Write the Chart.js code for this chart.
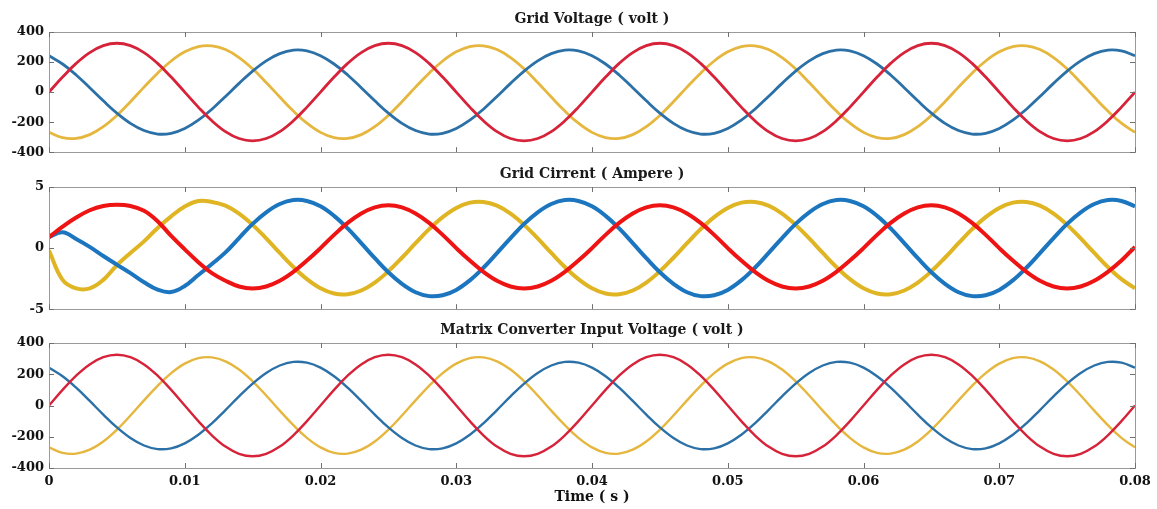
<!DOCTYPE html>
<html>
<head>
<meta charset="utf-8">
<script src="https://cdn.jsdelivr.net/npm/chart.js@4.4.1/dist/chart.umd.min.js"></script>
<style>
  html, body { margin: 0; padding: 0; background: #ffffff; }
  #wrap { position: relative; width: 1157px; height: 509px; overflow: hidden; }
  canvas { position: absolute; left: 0; }
</style>
</head>
<body>
<div id="wrap">
  <canvas id="cVoltage" width="1157" height="165" style="top:0px"></canvas>
  <canvas id="cCurrent" width="1157" height="157" style="top:165px"></canvas>
  <canvas id="cConverter" width="1157" height="187" style="top:322px"></canvas>
</div>
<script>
// Sample instants (s)
const timeS = [
  0, 0.001, 0.002, 0.003, 0.004, 0.005, 0.006, 0.007, 0.008, 0.009,
  0.010, 0.011, 0.012, 0.013, 0.014, 0.015, 0.016, 0.017, 0.018, 0.019,
  0.020, 0.021, 0.022, 0.023, 0.024, 0.025, 0.026, 0.027, 0.028, 0.029,
  0.030, 0.031, 0.032, 0.033, 0.034, 0.035, 0.036, 0.037, 0.038, 0.039,
  0.040, 0.041, 0.042, 0.043, 0.044, 0.045, 0.046, 0.047, 0.048, 0.049,
  0.050, 0.051, 0.052, 0.053, 0.054, 0.055, 0.056, 0.057, 0.058, 0.059,
  0.060, 0.061, 0.062, 0.063, 0.064, 0.065, 0.066, 0.067, 0.068, 0.069,
  0.070, 0.071, 0.072, 0.073, 0.074, 0.075, 0.076, 0.077, 0.078, 0.079,
  0.080
];

// Grid phase voltages (V)
const gridVoltRed = [
  0, 100, 191, 263, 309, 325, 309, 263, 191, 100, 0, -100, -191, -263, -309, -325, -309, -263, -191, -100,
  0, 100, 191, 263, 309, 325, 309, 263, 191, 100, 0, -100, -191, -263, -309, -325, -309, -263, -191, -100,
  0, 100, 191, 263, 309, 325, 309, 263, 191, 100, 0, -100, -191, -263, -309, -325, -309, -263, -191, -100,
  0, 100, 191, 263, 309, 325, 309, 263, 191, 100, 0, -100, -191, -263, -309, -325, -309, -263, -191, -100,
  0
];
const gridVoltBlue = [
  242, 187, 114, 29, -58, -140, -208, -256, -279, -274, -242, -187, -114, -29, 58, 140, 208, 256, 279, 274,
  242, 187, 114, 29, -58, -140, -208, -256, -279, -274, -242, -187, -114, -29, 58, 140, 208, 256, 279, 274,
  242, 187, 114, 29, -58, -140, -208, -256, -279, -274, -242, -187, -114, -29, 58, 140, 208, 256, 279, 274,
  242, 187, 114, 29, -58, -140, -208, -256, -279, -274, -242, -187, -114, -29, 58, 140, 208, 256, 279, 274,
  242
];
const gridVoltYellow = [
  -268, -303, -308, -283, -230, -155, -64, 33, 126, 207, 268, 303, 308, 283, 230, 155, 64, -33, -126, -207,
  -268, -303, -308, -283, -230, -155, -64, 33, 126, 207, 268, 303, 308, 283, 230, 155, 64, -33, -126, -207,
  -268, -303, -308, -283, -230, -155, -64, 33, 126, 207, 268, 303, 308, 283, 230, 155, 64, -33, -126, -207,
  -268, -303, -308, -283, -230, -155, -64, 33, 126, 207, 268, 303, 308, 283, 230, 155, 64, -33, -126, -207,
  -268
];

// Grid phase currents (A)
const gridCurrRed = [
  0.9, 1.75, 2.5, 3.1, 3.45, 3.55, 3.45, 3.05, 2.2, 1.0, -0.1, -1.15, -2.05, -2.67, -3.14, -3.3, -3.14, -2.67, -1.94, -1.02,
  0, 1.08, 2.06, 2.83, 3.33, 3.5, 3.33, 2.83, 2.06, 1.08, 0, -1.02, -1.94, -2.67, -3.14, -3.3, -3.14, -2.67, -1.94, -1.02,
  0, 1.08, 2.06, 2.83, 3.33, 3.5, 3.33, 2.83, 2.06, 1.08, 0, -1.02, -1.94, -2.67, -3.14, -3.3, -3.14, -2.67, -1.94, -1.02,
  0, 1.08, 2.06, 2.83, 3.33, 3.5, 3.33, 2.83, 2.06, 1.08, 0, -1.02, -1.94, -2.67, -3.14, -3.3, -3.14, -2.67, -1.94, -1.02,
  0.1
];
const gridCurrBlue = [
  0.9, 1.3, 0.75, 0.1, -0.65, -1.35, -2.05, -2.8, -3.4, -3.6, -3.1, -2.2, -1.3, -0.35, 0.82, 1.98, 2.93, 3.61, 3.93, 3.86,
  3.42, 2.64, 1.61, 0.41, -0.82, -1.98, -2.93, -3.61, -3.93, -3.86, -3.42, -2.64, -1.61, -0.41, 0.82, 1.98, 2.93, 3.61, 3.93, 3.86,
  3.42, 2.64, 1.61, 0.41, -0.82, -1.98, -2.93, -3.61, -3.93, -3.86, -3.42, -2.64, -1.61, -0.41, 0.82, 1.98, 2.93, 3.61, 3.93, 3.86,
  3.42, 2.64, 1.61, 0.41, -0.82, -1.98, -2.93, -3.61, -3.93, -3.86, -3.42, -2.64, -1.61, -0.41, 0.82, 1.98, 2.93, 3.61, 3.93, 3.86,
  3.42
];
const gridCurrYellow = [
  -0.2, -2.6, -3.3, -3.3, -2.6, -1.4, -0.4, 0.55, 1.65, 2.6, 3.4, 3.85, 3.78, 3.47, 2.82, 1.9, 0.79, -0.4, -1.55, -2.54,
  -3.29, -3.72, -3.78, -3.47, -2.82, -1.9, -0.79, 0.4, 1.55, 2.54, 3.29, 3.72, 3.78, 3.47, 2.82, 1.9, 0.79, -0.4, -1.55, -2.54,
  -3.29, -3.72, -3.78, -3.47, -2.82, -1.9, -0.79, 0.4, 1.55, 2.54, 3.29, 3.72, 3.78, 3.47, 2.82, 1.9, 0.79, -0.4, -1.55, -2.54,
  -3.29, -3.72, -3.78, -3.47, -2.82, -1.9, -0.79, 0.4, 1.55, 2.54, 3.29, 3.72, 3.78, 3.47, 2.82, 1.9, 0.79, -0.4, -1.55, -2.54,
  -3.29
];

// Matrix converter input voltages (V) follow the grid voltages
const mcVoltRed = gridVoltRed.slice();
const mcVoltBlue = gridVoltBlue.slice();
const mcVoltYellow = gridVoltYellow.slice();

// Tick values
const timeTicks = [0, 0.01, 0.02, 0.03, 0.04, 0.05, 0.06, 0.07, 0.08];
const voltTicks = [-400, -200, 0, 200, 400];
const currTicks = [-5, 0, 5];

const RED_V = '#d6233a', BLUE_V = '#2b70a6', YELLOW_V = '#e6b73e';
const RED_I = '#ee1414', BLUE_I = '#1b76bf', YELLOW_I = '#e0b524';

const tickFont = { family: 'DejaVu Serif', weight: 'bold', size: 13 };
const titleFont = 'bold 14px "DejaVu Serif"';

const toPoints = (ys) => ys.map((y, i) => ({ x: timeS[i], y }));

// Panel frame with inward ticks on all four sides, plus the panel heading
const framePlugin = {
  id: 'frame',
  afterDraw(chart, args, opts) {
    const { ctx, chartArea: a, scales } = chart;
    const xs = scales.x, ys = scales.y;
    ctx.save();
    ctx.strokeStyle = '#9a9a9a';
    ctx.lineWidth = 1;
    ctx.strokeRect(Math.round(a.left) + 0.5, Math.round(a.top) + 0.5,
                   Math.round(a.right - a.left), Math.round(a.bottom - a.top));
    ctx.strokeStyle = '#707070';
    ctx.beginPath();
    const tl = 5;
    timeTicks.forEach(v => {
      const px = Math.round(xs.getPixelForValue(v)) + 0.5;
      ctx.moveTo(px, a.top); ctx.lineTo(px, a.top + tl);
      ctx.moveTo(px, a.bottom); ctx.lineTo(px, a.bottom - tl);
    });
    opts.yTicks.forEach(v => {
      const py = Math.round(ys.getPixelForValue(v)) + 0.5;
      ctx.moveTo(a.left, py); ctx.lineTo(a.left + tl, py);
      ctx.moveTo(a.right, py); ctx.lineTo(a.right - tl, py);
    });
    ctx.stroke();
    ctx.fillStyle = '#1a1a1a';
    ctx.font = titleFont;
    ctx.textAlign = 'center';
    ctx.textBaseline = 'middle';
    ctx.fillText(opts.heading, (a.left + a.right) / 2, a.top - 13);
    ctx.restore();
  }
};

function lineSet(values, color, width) {
  return {
    data: toPoints(values),
    borderColor: color,
    borderWidth: width,
    pointRadius: 0,
    tension: 0.4,
    fill: false
  };
}

function makePanel(id, heading, datasets, yMin, yMax, yTicks, pad, showTime) {
  return new Chart(document.getElementById(id), {
    type: 'line',
    data: { datasets },
    options: {
      responsive: false,
      animation: false,
      layout: { padding: { left: 0, right: 22, top: pad.top, bottom: pad.bottom } },
      plugins: {
        legend: { display: false },
        tooltip: { enabled: false },
        frame: { heading, yTicks }
      },
      scales: {
        x: {
          type: 'linear',
          min: 0, max: 0.08,
          display: showTime,
          afterBuildTicks: s => { s.ticks = timeTicks.map(v => ({ value: v })); },
          afterFit: s => { if (showTime) s.height = 41; },
          grid: { display: false, drawTicks: false },
          border: { display: false },
          ticks: {
            font: tickFont, color: '#111', padding: 6, maxRotation: 0,
            callback: v => (v === 0 ? '0' : v.toFixed(2))
          },
          title: {
            display: showTime, text: 'Time ( s )', color: '#111',
            font: { family: 'DejaVu Serif', weight: 'bold', size: 14 },
            padding: { top: 0, bottom: 3 }
          }
        },
        y: {
          min: yMin, max: yMax,
          afterBuildTicks: s => { s.ticks = yTicks.map(v => ({ value: v })); },
          afterFit: s => { s.width = 49; },
          grid: { display: false, drawTicks: false },
          border: { display: false },
          ticks: { font: tickFont, color: '#111', padding: 5 }
        }
      }
    },
    plugins: [framePlugin]
  });
}

makePanel('cVoltage', 'Grid Voltage ( volt )', [
  lineSet(gridVoltRed, RED_V, 2.8),
  lineSet(gridVoltBlue, BLUE_V, 2.8),
  lineSet(gridVoltYellow, YELLOW_V, 2.8)
], -400, 400, voltTicks, { top: 32, bottom: 8 }, false);

makePanel('cCurrent', 'Grid Cirrent ( Ampere )', [
  lineSet(gridCurrRed, RED_I, 4),
  lineSet(gridCurrBlue, BLUE_I, 4),
  lineSet(gridCurrYellow, YELLOW_I, 4)
], -5, 5, currTicks, { top: 22, bottom: 9 }, false);

makePanel('cConverter', 'Matrix Converter Input Voltage ( volt )', [
  lineSet(mcVoltRed, RED_V, 2.4),
  lineSet(mcVoltBlue, BLUE_V, 2.4),
  lineSet(mcVoltYellow, YELLOW_V, 2.4)
], -400, 400, voltTicks, { top: 21, bottom: 0 }, true);
</script>
</body>
</html>
